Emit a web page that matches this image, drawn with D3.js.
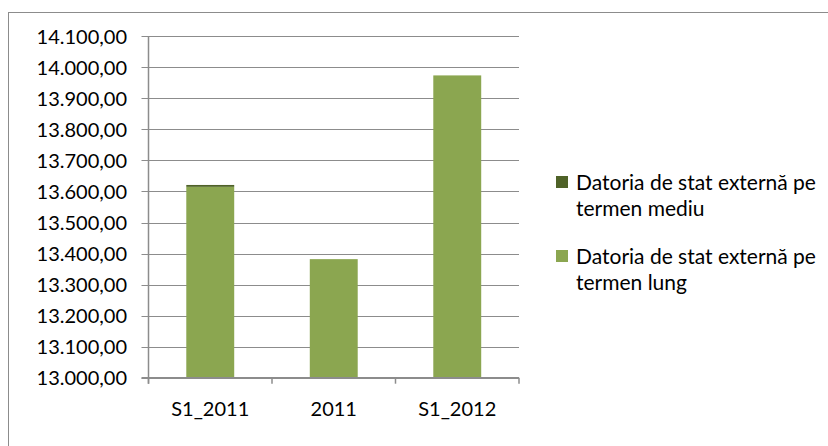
<!DOCTYPE html>
<html>
<head>
<meta charset="utf-8">
<script src="https://cdn.jsdelivr.net/npm/d3@7/dist/d3.min.js"></script>
<style>
  body { margin: 0; background: #fff; }
  svg { display: block; font-family: Lato, "Open Sans", sans-serif; }
</style>
</head>
<body>
<div id="chart"></div>
<script>
const categories = ["S1_2011", "2011", "S1_2012"];
const seriesNames = ["Datoria de stat externă pe termen mediu", "Datoria de stat externă pe termen lung"];
// long term values + medium term values, stacked
const lung = [13615, 13382, 13974];
const mediu = [6, 0, 0];
const yTicks = [13000, 13100, 13200, 13300, 13400, 13500, 13600, 13700, 13800, 13900, 14000, 14100];
const legendLines = [["Datoria de stat externă pe", "termen mediu"], ["Datoria de stat externă pe", "termen lung"]];

const W = 828, H = 446;
const colors = {mediu: "#4f6228", lung: "#8ba650"};
const plot = {left: 148.5, right: 519, top: 36.3, bottom: 377.7};

const svg = d3.select("#chart").append("svg").attr("width", W).attr("height", H);

// outer frame
svg.append("rect")
  .attr("x", 8.5).attr("y", 12.5).attr("width", 840).attr("height", 460)
  .attr("fill", "none").attr("stroke", "#8c8c8c").attr("stroke-width", 1);

const x = d3.scaleBand()
  .domain(categories)
  .range([plot.left, plot.right])
  .paddingInner(0.612)
  .paddingOuter(0.306);

const y = d3.scaleLinear()
  .domain([13000, 14100])
  .range([plot.bottom, plot.top]);

// gridlines
svg.append("g")
  .selectAll("line")
  .data(yTicks)
  .join("line")
    .attr("x1", plot.left - 7).attr("x2", plot.right)
    .attr("y1", d => Math.round(y(d)) + 0.5).attr("y2", d => Math.round(y(d)) + 0.5)
    .attr("stroke", "#8c8c8c").attr("stroke-width", 1.2);

// y labels
const fmt = d => d3.format(",.2f")(d).replace(/,/g, "#").replace(".", ",").replace(/#/g, ".");
svg.append("g")
  .selectAll("text")
  .data(yTicks)
  .join("text")
    .attr("x", 127)
    .attr("y", d => y(d))
    .attr("dy", "0.36em")
    .attr("text-anchor", "end")
    .attr("font-size", 20)
    .attr("fill", "#000")
    .text(fmt);

// stacked bars
const rows = categories.map((c, i) => ({cat: c, lung: lung[i], mediu: mediu[i]}));
const stack = d3.stack().keys(["lung", "mediu"])(rows);

svg.append("g")
  .selectAll("g")
  .data(stack)
  .join("g")
    .attr("fill", d => colors[d.key])
  .selectAll("rect")
  .data(d => d)
  .join("rect")
    .attr("x", d => x(d.data.cat))
    .attr("width", x.bandwidth())
    .attr("y", d => y(d[1]))
    .attr("height", d => Math.max(0, y(Math.max(d[0], 13000)) - y(d[1])));

// axes lines
svg.append("line")
  .attr("x1", plot.left).attr("x2", plot.left)
  .attr("y1", plot.top).attr("y2", plot.bottom + 6)
  .attr("stroke", "#8c8c8c").attr("stroke-width", 1.5);
svg.append("line")
  .attr("x1", plot.left - 7).attr("x2", plot.right)
  .attr("y1", plot.bottom).attr("y2", plot.bottom)
  .attr("stroke", "#8c8c8c").attr("stroke-width", 1.5);

// category tick marks at band boundaries
const bounds = categories.map(c => x(c) - x.step() * x.paddingInner() / 2).concat([plot.right]);
svg.append("g")
  .selectAll("line")
  .data(bounds)
  .join("line")
    .attr("x1", d => d).attr("x2", d => d)
    .attr("y1", plot.bottom).attr("y2", plot.bottom + 6)
    .attr("stroke", "#8c8c8c").attr("stroke-width", 1.5);

// x labels
svg.append("g")
  .selectAll("text")
  .data(categories)
  .join("text")
    .attr("x", d => x(d) + x.bandwidth() / 2)
    .attr("y", 409)
    .attr("dy", "0.36em")
    .attr("text-anchor", "middle")
    .attr("font-size", 20)
    .text(d => d);

// legend
const legend = svg.append("g");
const legendY = [182, 256];
const legendColors = [colors.mediu, colors.lung];
legendLines.forEach((lines, i) => {
  const g = legend.append("g").attr("transform", `translate(0,${legendY[i]})`);
  g.append("rect")
    .attr("x", 556).attr("y", -6).attr("width", 12).attr("height", 12)
    .attr("fill", legendColors[i]);
  g.append("text")
    .attr("x", 576)
    .attr("font-size", 21)
    .selectAll("tspan")
    .data(lines)
    .join("tspan")
      .attr("x", 576)
      .attr("y", (d, j) => j * 26)
      .attr("dy", "0.36em")
      .text(d => d);
});
</script>
</body>
</html>
